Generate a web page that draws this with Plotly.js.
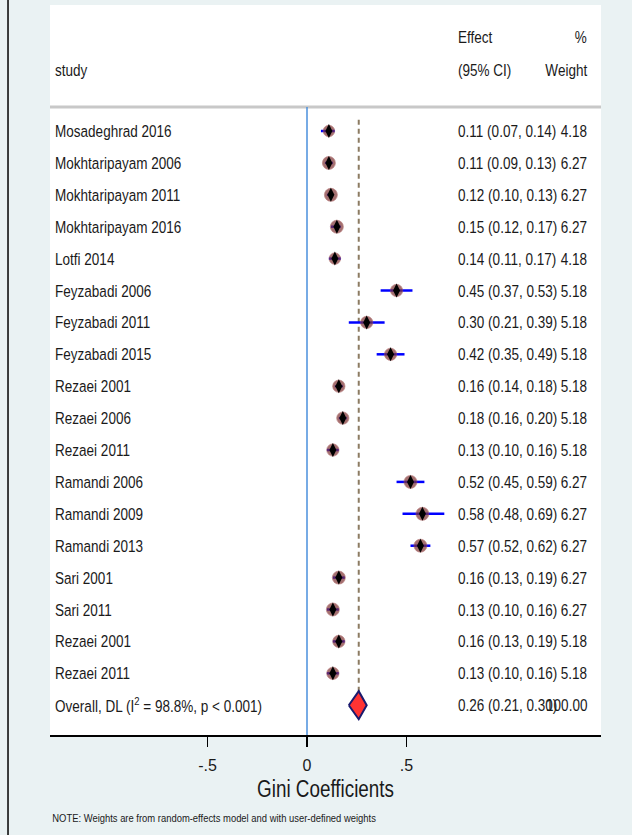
<!DOCTYPE html>
<html>
<head>
<meta charset="utf-8">
<script src="https://cdn.plot.ly/plotly-3.0.1.min.js"></script>
<style>
html,body{margin:0;padding:0;background:#eaf2f3;}
#chart{width:632px;height:835px;}
</style>
</head>
<body>
<div id="chart"></div>
<script>
// ---- data ----
const studies = ["Mosadeghrad 2016","Mokhtaripayam 2006","Mokhtaripayam 2011","Mokhtaripayam 2016","Lotfi 2014",
  "Feyzabadi 2006","Feyzabadi 2011","Feyzabadi 2015","Rezaei 2001","Rezaei 2006","Rezaei 2011",
  "Ramandi 2006","Ramandi 2009","Ramandi 2013","Sari 2001","Sari 2011","Rezaei 2001","Rezaei 2011"];
const effect = [0.11,0.11,0.12,0.15,0.14,0.45,0.30,0.42,0.16,0.18,0.13,0.52,0.58,0.57,0.16,0.13,0.16,0.13];
const lower  = [0.07,0.09,0.10,0.12,0.11,0.37,0.21,0.35,0.14,0.16,0.10,0.45,0.48,0.52,0.13,0.10,0.13,0.10];
const upper  = [0.14,0.13,0.13,0.17,0.17,0.53,0.39,0.49,0.18,0.20,0.16,0.59,0.69,0.62,0.19,0.16,0.19,0.16];
const weights = [4.18,6.27,6.27,6.27,4.18,5.18,5.18,5.18,5.18,5.18,5.18,6.27,6.27,6.27,6.27,6.27,5.18,5.18];
const overallLabel = "Overall, DL (I<sup>2</sup> = 98.8%, p < 0.001)";
const overallEffect = 0.26;
const overallLower = 0.21;
const overallUpper = 0.30;
const overallWeight = 100.00;
const tickVals = [-0.5, 0, 0.5];
const tickText = ["-.5", "0", ".5"];
const xTitle = "Gini Coefficients";
const note = "NOTE: Weights are from random-effects model and with user-defined weights";

// ---- layout helpers ----
const FONT = "'Liberation Sans',Arial,sans-serif";
const NARROW = 0.82;
const rows = studies.map((_, i) => i);
const overallRow = studies.length;
const xName = -1.276, xEff = 0.749, xW = 1.417;

const fmt = v => v.toFixed(2);
const ann = [];
function txt(x, y, t, anchor, size) {
  ann.push({x: x, y: y, xref: 'x', yref: 'y', text: t, showarrow: false,
    xanchor: anchor, yanchor: 'middle', font: {family: FONT, size: size || 16.5, color: '#1a1a1a'}});
}
txt(xName, -1.91, "study", 'left');
txt(xEff, -2.95, "Effect", 'left');
txt(xEff, -1.91, "(95% CI)", 'left');
txt(xW, -2.95, "%", 'right');
txt(xW, -1.91, "Weight", 'right');
rows.forEach(i => {
  txt(xName, i, studies[i], 'left');
  txt(xEff, i, fmt(effect[i]) + " (" + fmt(lower[i]) + ", " + fmt(upper[i]) + ")", 'left');
  txt(xW, i, fmt(weights[i]), 'right');
});
txt(xName, overallRow, overallLabel, 'left');
txt(xEff, overallRow, fmt(overallEffect) + " (" + fmt(overallLower) + ", " + fmt(overallUpper) + ")", 'left');
txt(xW, overallRow, fmt(overallWeight), 'right');
ann.push({x: 0, y: 0, xref: 'paper', yref: 'paper', yanchor: 'middle', xanchor: 'left',
  text: note, showarrow: false, font: {family: FONT, size: 11.5, color: '#1a1a1a'}, yshift: -83});
ann.push({x: 0.5, xref: 'paper', y: 0, yref: 'paper', yanchor: 'middle', xanchor: 'center',
  text: xTitle, showarrow: false, font: {family: FONT, size: 23, color: '#1a1a1a'}, yshift: -54, xshift: 0});

const traces = [
  {
    type: 'scatter', mode: 'markers', x: effect, y: rows, hoverinfo: 'skip',
    error_x: {type: 'data', symmetric: false,
      array: upper.map((u, i) => u - effect[i]),
      arrayminus: lower.map((l, i) => effect[i] - l),
      color: '#0000ff', thickness: 2.5, width: 0},
    marker: {symbol: 'circle', size: weights.map(w => 13 * Math.pow(w / 6.27, 0.3)),
      color: '#7e3434', line: {color: 'rgba(160,80,80,0.7)', width: 1}}
  },
  {
    type: 'scatter', mode: 'markers', x: effect, y: rows, hoverinfo: 'skip',
    marker: {symbol: 'diamond-tall', size: 10, color: '#000000'}
  },
  {
    type: 'scatter', mode: 'lines', hoverinfo: 'skip',
    x: [overallLower, overallEffect, overallUpper, overallEffect, overallLower],
    y: [overallRow, overallRow - 0.44, overallRow, overallRow + 0.44, overallRow],
    fill: 'toself', fillcolor: '#ff3333', line: {color: '#1a1a6e', width: 2}
  }
];

const layout = {
  width: 632, height: 835,
  paper_bgcolor: '#eaf2f3', plot_bgcolor: '#ffffff',
  margin: {l: 50, r: 31, t: 5, b: 100},
  showlegend: false,
  xaxis: {range: [-1.2915, 1.4774], showgrid: false, zeroline: false,
    showline: true, linecolor: '#000000', linewidth: 2,
    ticks: 'outside', ticklen: 10, tickwidth: 1.5, tickcolor: '#000000',
    tickvals: tickVals, ticktext: tickText, ticklabelstandoff: 5,
    tickfont: {family: FONT, size: 16, color: '#1a1a1a'}, fixedrange: true},
  yaxis: {range: [18.934, -3.95], showgrid: false, zeroline: false, showline: false,
    showticklabels: false, ticks: '', fixedrange: true},
  annotations: ann,
  shapes: [
    {type: 'line', xref: 'paper', yref: 'paper', x0: -0.0762, x1: -0.0762, y0: -0.14, y1: 1.01,
      line: {color: '#000000', width: 1.5}},
    {type: 'line', xref: 'paper', yref: 'y', x0: 0, x1: 1, y0: -0.75, y1: -0.75,
      line: {color: '#c8c8c8', width: 3}, layer: 'below'},
    {type: 'line', xref: 'x', yref: 'y', x0: 0, x1: 0, y0: -0.75, y1: 18.934,
      line: {color: '#4a8fdc', width: 1.5}, layer: 'below'},
    {type: 'line', xref: 'x', yref: 'y', x0: overallEffect, x1: overallEffect, y0: -0.35, y1: overallRow + 0.45,
      line: {color: '#8c7b62', width: 2, dash: '5px,4px'}, layer: 'below'}
  ]
};

Plotly.newPlot('chart', traces, layout, {displayModeBar: false, staticPlot: true}).then(() => {
  // emulate the narrow typeface of the original by condensing annotation texts horizontally
  document.querySelectorAll('#chart .annotation').forEach(g => {
    const idx = +g.getAttribute('data-index');
    const a = ann[idx];
    const t = g.querySelector('text.annotation-text');
    if (!a || !t) return;
    const origin = a.xanchor === 'left' ? 'left center' : (a.xanchor === 'right' ? 'right center' : 'center center');
    t.style.transformBox = 'fill-box';
    t.style.transformOrigin = origin;
    t.style.transform = 'scaleX(' + NARROW + ')';
  });
});
</script>
</body>
</html>
